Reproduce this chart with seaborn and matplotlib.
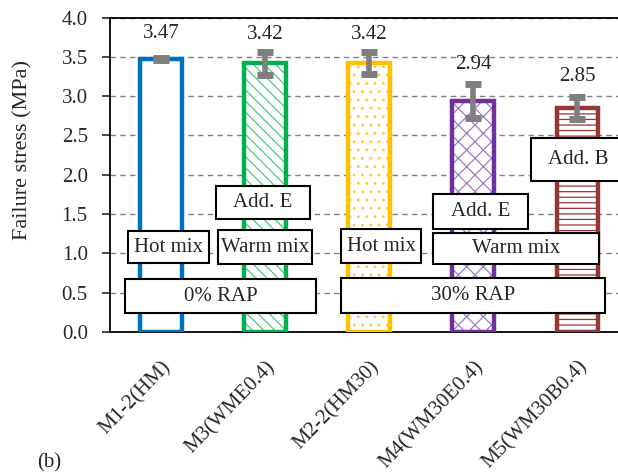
import matplotlib
matplotlib.use("Agg")
import matplotlib.pyplot as plt
import matplotlib.transforms as mtransforms
import seaborn as sns
import pandas as pd
from matplotlib.patches import Rectangle

categories = ["M1-2(HM)", "M3(WME0.4)", "M2-2(HM30)", "M4(WM30E0.4)", "M5(WM30B0.4)"]
stress = [3.47, 3.42, 3.42, 2.94, 2.85]
err = [0.015, 0.145, 0.14, 0.22, 0.14]
value_labels = ["3.47", "3.42", "3.42", "2.94", "2.85"]
y_ticks = [0.0, 0.5, 1.0, 1.5, 2.0, 2.5, 3.0, 3.5, 4.0]

colors = ["#0070C0", "#00B050", "#FFC000", "#7030A0", "#953735"]
hatch_colors = ["#0070C0", "#4CCB7F", "#FFCC40", "#9E7BC4", "#953735"]
hatches = ["", "\\\\\\", "..", "xx", "---"]
label_y = [3.80, 3.78, 3.78, 3.40, 3.25]

# annotation boxes: (text, x0, x1, y0, y1)
boxes = [
    ("Hot mix", -0.317, 0.462, 0.877, 1.283),
    ("Add. E", 0.529, 1.433, 1.436, 1.855),
    ("Warm mix", 0.548, 1.452, 0.864, 1.296),
    ("0% RAP", -0.346, 1.490, 0.241, 0.673),
    ("Hot mix", 1.731, 2.500, 0.877, 1.309),
    ("30% RAP", 1.731, 4.269, 0.241, 0.686),
    ("Add. E", 2.615, 3.529, 1.309, 1.753),
    ("Warm mix", 2.615, 4.212, 0.864, 1.258),
    ("Add. B", 3.558, 4.46, 1.918, 2.465),
]

sns.set_style("white")
plt.rcParams["font.family"] = ["Liberation Serif", "DejaVu Serif"]
plt.rcParams["hatch.linewidth"] = 0.9

FS = 15
df = pd.DataFrame({"cat": categories, "val": stress})
fig = plt.figure(figsize=(6.18, 4.73), dpi=100)
ax = fig.add_axes([0.178, 0.298, 0.822, 0.665])

sns.barplot(data=df, x="cat", y="val", hue="cat", palette=colors, width=0.40,
            errorbar=None, legend=False, ax=ax, saturation=1)
for i, p in enumerate(list(ax.patches)):
    p.set_facecolor("white")
    p.set_edgecolor(hatch_colors[i])
    p.set_linewidth(0)
    p.set_hatch(hatches[i])
    p.set_zorder(2)
    ax.add_patch(Rectangle(p.get_xy(), p.get_width(), p.get_height(), fill=False,
                           edgecolor=colors[i], linewidth=3.2, zorder=3))

ax.errorbar(range(len(categories)), stress, yerr=err, fmt="none", ecolor="#7F7F7F",
            elinewidth=4, capsize=6, capthick=5, zorder=4)

for i, t in enumerate(value_labels):
    ax.text(i, label_y[i], t, ha="center", va="center", fontsize=FS, clip_on=False)

for t, x0, x1, y0, y1 in boxes:
    ax.add_patch(Rectangle((x0, y0), x1 - x0, y1 - y0, facecolor="white",
                           edgecolor="black", linewidth=1.5, zorder=5, clip_on=False))
    ax.text((x0 + x1) / 2, (y0 + y1) / 2, t, ha="center", va="center",
            fontsize=FS, zorder=6, clip_on=False)

ax.set_xlim(-0.49, 4.39)
ax.set_ylim(0, 4.0)
ax.set_yticks(y_ticks)
ax.set_yticklabels([f"{v:.1f}" for v in y_ticks], fontsize=FS)
ax.yaxis.grid(True, linestyle=(0, (4, 3)), color="#808080", linewidth=1)
ax.set_axisbelow(True)
ax.spines["right"].set_visible(False)
for s in ["left", "bottom", "top"]:
    ax.spines[s].set_color("black")
    ax.spines[s].set_linewidth(1.3)
ax.tick_params(axis="y", left=True, length=6, width=1.2, direction="out", pad=10)
ax.tick_params(axis="x", bottom=False, pad=0)
ax.set_xticks(range(len(categories)))
ax.set_xticklabels(categories, rotation=46, ha="right", va="center",
                   rotation_mode="anchor", fontsize=FS)
offset = mtransforms.ScaledTranslation(0.07, -0.27, fig.dpi_scale_trans)
for lab in ax.get_xticklabels():
    lab.set_transform(lab.get_transform() + offset)
ax.set_xlabel("")
ax.set_ylabel("Failure stress (MPa)", fontsize=16)
ax.yaxis.set_label_coords(-0.152, 0.58)

fig.text(0.06, 0.012, "(b)", fontsize=FS)

fig.savefig("out.png", dpi=100)
